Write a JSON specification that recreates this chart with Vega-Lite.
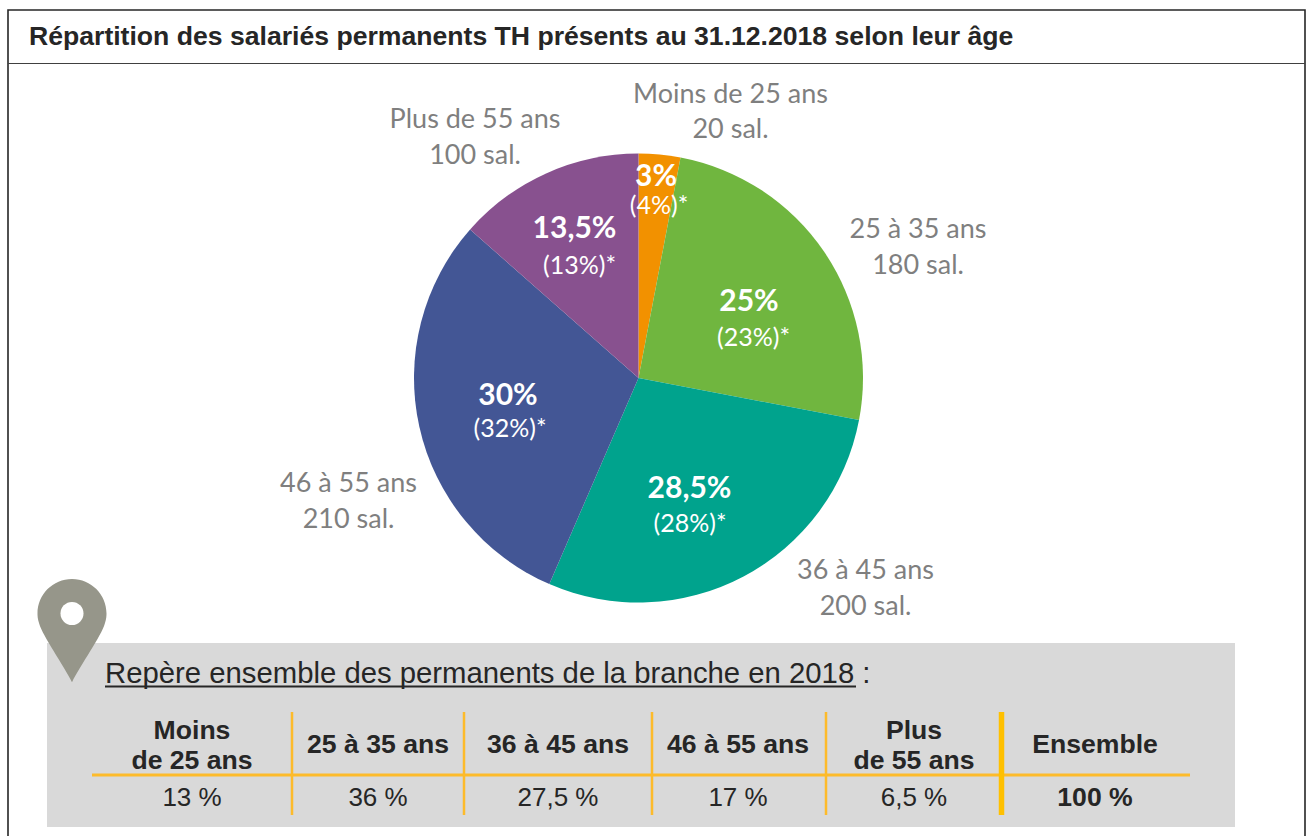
{
"$schema":"https://vega.github.io/schema/vega-lite/v6.json",
"width":1306,"height":836,"autosize":{"type":"none"},"padding":0,"background":"white",
"title":{"text":"Répartition des salariés permanents TH présents au 31.12.2018 selon leur âge","anchor":"start","frame":"group","offset":-51,"dx":29,"font":"Liberation Sans","fontSize":26.6,"fontWeight":"bold","color":"#262626"},
"config":{"view":{"stroke":null},"axis":{"domain":false,"grid":false,"ticks":false,"labels":false,"title":null}},
"datasets":{
"tranches":[
{"rang":1,"age":"Moins de 25 ans","part":3,"salaries":"20 sal.","pct":"3%","repere":"(4%)*"},
{"rang":2,"age":"25 à 35 ans","part":25,"salaries":"180 sal.","pct":"25%","repere":"(23%)*"},
{"rang":3,"age":"36 à 45 ans","part":28.5,"salaries":"200 sal.","pct":"28,5%","repere":"(28%)*"},
{"rang":4,"age":"46 à 55 ans","part":30,"salaries":"210 sal.","pct":"30%","repere":"(32%)*"},
{"rang":5,"age":"Plus de 55 ans","part":13.5,"salaries":"100 sal.","pct":"13,5%","repere":"(13%)*"}],
"tableau":[
{"colonne":1,"ligne":1,"texte":"Moins","gras":true},{"colonne":1,"ligne":2,"texte":"de 25 ans","gras":true},
{"colonne":2,"ligne":3,"texte":"25 à 35 ans","gras":true},{"colonne":3,"ligne":3,"texte":"36 à 45 ans","gras":true},
{"colonne":4,"ligne":3,"texte":"46 à 55 ans","gras":true},
{"colonne":5,"ligne":1,"texte":"Plus","gras":true},{"colonne":5,"ligne":2,"texte":"de 55 ans","gras":true},
{"colonne":6,"ligne":3,"texte":"Ensemble","gras":true},
{"colonne":1,"ligne":4,"texte":"13 %","gras":false},{"colonne":2,"ligne":4,"texte":"36 %","gras":false},
{"colonne":3,"ligne":4,"texte":"27,5 %","gras":false},{"colonne":4,"ligne":4,"texte":"17 %","gras":false},
{"colonne":5,"ligne":4,"texte":"6,5 %","gras":false},{"colonne":6,"ligne":4,"texte":"100 %","gras":true}],
"separateurs":[{"apres":1},{"apres":2},{"apres":3},{"apres":4},{"apres":5}],
"element":[{"element":"décor"}]
},
"resolve":{"scale":{"x":"independent","y":"independent","color":"independent"}},
"layer":[
{"data":{"name":"element"},"mark":{"type":"rect","fill":null,"stroke":"#262626","strokeWidth":1.6},
 "encoding":{"x":{"datum":0,"type":"quantitative","scale":{"domain":[0,1],"range":[8,1305]},"axis":null},"x2":{"datum":1},
  "y":{"datum":0,"type":"quantitative","scale":{"domain":[0,1],"range":[10,870]},"axis":null},"y2":{"datum":1}}},
{"data":{"name":"element"},"mark":{"type":"rule","stroke":"#404040","strokeWidth":1.2},
 "encoding":{"x":{"datum":0,"type":"quantitative","scale":{"domain":[0,1],"range":[8,1305]},"axis":null},"x2":{"datum":1},
  "y":{"datum":0,"type":"quantitative","scale":{"domain":[0,1],"range":[63.5,64]},"axis":null}}},
{"data":{"name":"tranches"},"mark":{"type":"arc","x":638.5,"y":378,"outerRadius":224.5,"innerRadius":0},
 "encoding":{"theta":{"field":"part","type":"quantitative","stack":true,"scale":{"domain":[0,100]}},
  "order":{"field":"rang","type":"quantitative"},
  "color":{"field":"age","type":"nominal","legend":null,"scale":{"domain":["Moins de 25 ans","25 à 35 ans","36 à 45 ans","46 à 55 ans","Plus de 55 ans"],"range":["#F29100","#70B63F","#00A38D","#435695","#88518F"]}}}},
{"data":{"name":"tranches"},"mark":{"type":"text","font":"Lato","fontSize":30,"fontWeight":"bold","fill":"white","baseline":"middle"},
 "encoding":{"text":{"field":"pct"},
  "x":{"field":"rang","type":"quantitative","axis":null,"scale":{"zero":false,"nice":false,"domain":[1,2,3,4,5],"range":[656,749,689.5,508,574.5]}},
  "y":{"field":"rang","type":"quantitative","axis":null,"scale":{"zero":false,"nice":false,"domain":[1,2,3,4,5],"range":[177,302,489,396,229]}}}},
{"data":{"name":"tranches"},"mark":{"type":"text","font":"Lato","fontSize":25,"fill":"white","baseline":"middle"},
 "encoding":{"text":{"field":"repere"},
  "x":{"field":"rang","type":"quantitative","axis":null,"scale":{"zero":false,"nice":false,"domain":[1,2,3,4,5],"range":[659,753.5,690,510,579.5]}},
  "y":{"field":"rang","type":"quantitative","axis":null,"scale":{"zero":false,"nice":false,"domain":[1,2,3,4,5],"range":[206,338,524,429,266]}}}},
{"data":{"name":"tranches"},"mark":{"type":"text","font":"Lato","fontSize":27,"fill":"#7F7F7F","baseline":"middle"},
 "encoding":{"text":{"field":"age"},
  "x":{"field":"rang","type":"quantitative","axis":null,"scale":{"zero":false,"nice":false,"domain":[1,2,3,4,5],"range":[730.5,918,865.5,348.5,475]}},
  "y":{"field":"rang","type":"quantitative","axis":null,"scale":{"zero":false,"nice":false,"domain":[1,2,3,4,5],"range":[95,230,571,484,120]}}}},
{"data":{"name":"tranches"},"mark":{"type":"text","font":"Lato","fontSize":27,"fill":"#7F7F7F","baseline":"middle"},
 "encoding":{"text":{"field":"salaries"},
  "x":{"field":"rang","type":"quantitative","axis":null,"scale":{"zero":false,"nice":false,"domain":[1,2,3,4,5],"range":[730.5,918,865.5,348.5,475]}},
  "y":{"field":"rang","type":"quantitative","axis":null,"scale":{"zero":false,"nice":false,"domain":[1,2,3,4,5],"range":[130,266,607,520,156]}}}},
{"data":{"name":"element"},"mark":{"type":"rect","fill":"#D9D9D9"},
 "encoding":{"x":{"datum":0,"type":"quantitative","scale":{"domain":[0,1],"range":[47,1235]},"axis":null},"x2":{"datum":1},
  "y":{"datum":0,"type":"quantitative","scale":{"domain":[0,1],"range":[643,827]},"axis":null},"y2":{"datum":1}}},
{"data":{"name":"element"},"mark":{"type":"point","filled":true,"opacity":1,"fill":"#96968A","stroke":null,"x":72,"y":613.5,"size":4761,"shape":"M0,1.99 C-0.25,1.5 -0.85,0.65 -0.95,0.3 C-1,0.15 -1,0.05 -1,0 A1,1 0 1 1 1,0 C1,0.05 1,0.15 0.95,0.3 C0.85,0.65 0.25,1.5 0,1.99 Z"},"encoding":{}},
{"data":{"name":"element"},"mark":{"type":"point","filled":true,"opacity":1,"fill":"white","stroke":null,"x":72,"y":613.5,"size":530,"shape":"circle"},"encoding":{}},
{"data":{"values":[{"texte":"Repère ensemble des permanents de la branche en 2018 :"}]},"mark":{"type":"text","font":"Liberation Sans","fontSize":29.3,"fill":"#262626","align":"left","baseline":"alphabetic","x":105,"y":683},"encoding":{"text":{"field":"texte"}}},
{"data":{"name":"element"},"mark":{"type":"rule","stroke":"#262626","strokeWidth":2},
 "encoding":{"x":{"datum":0,"type":"quantitative","scale":{"domain":[0,1],"range":[105,856]},"axis":null},"x2":{"datum":1},
  "y":{"datum":0,"type":"quantitative","scale":{"domain":[0,1],"range":[686.5,687]},"axis":null}}},
{"data":{"name":"element"},"mark":{"type":"rule","stroke":"#FDBB2B","strokeWidth":3},
 "encoding":{"x":{"datum":0,"type":"quantitative","scale":{"domain":[0,1],"range":[92,1190]},"axis":null},"x2":{"datum":1},
  "y":{"datum":0,"type":"quantitative","scale":{"domain":[0,1],"range":[775,775.5]},"axis":null}}},
{"data":{"name":"separateurs"},"transform":[{"filter":"datum.apres<5"}],"mark":{"type":"rule","stroke":"#FDBB2B","strokeWidth":2.5},
 "encoding":{"x":{"field":"apres","type":"quantitative","axis":null,"scale":{"zero":false,"nice":false,"domain":[1,2,3,4,5],"range":[292,464,652,826,1001.5]}},
  "y":{"datum":0,"type":"quantitative","scale":{"domain":[0,1],"range":[712,815]},"axis":null},"y2":{"datum":1}}},
{"data":{"name":"separateurs"},"transform":[{"filter":"datum.apres==5"}],"mark":{"type":"rule","stroke":"#FFC000","strokeWidth":5.5},
 "encoding":{"x":{"field":"apres","type":"quantitative","axis":null,"scale":{"zero":false,"nice":false,"domain":[1,2,3,4,5],"range":[292,464,652,826,1001.5]}},
  "y":{"datum":0,"type":"quantitative","scale":{"domain":[0,1],"range":[712,815]},"axis":null},"y2":{"datum":1}}},
{"data":{"name":"tableau"},"transform":[{"filter":"datum.gras"}],"mark":{"type":"text","font":"Liberation Sans","fontSize":26.6,"fontWeight":"bold","fill":"#262626","baseline":"middle"},
 "encoding":{"text":{"field":"texte"},
  "x":{"field":"colonne","type":"quantitative","axis":null,"scale":{"zero":false,"nice":false,"domain":[1,2,3,4,5,6],"range":[192,378,558,738,914,1095]}},
  "y":{"field":"ligne","type":"quantitative","axis":null,"scale":{"zero":false,"nice":false,"domain":[1,2,3,4],"range":[731,761,745,798]}}}},
{"data":{"name":"tableau"},"transform":[{"filter":"!datum.gras"}],"mark":{"type":"text","font":"Liberation Sans","fontSize":26,"fill":"#262626","baseline":"middle"},
 "encoding":{"text":{"field":"texte"},
  "x":{"field":"colonne","type":"quantitative","axis":null,"scale":{"zero":false,"nice":false,"domain":[1,2,3,4,5,6],"range":[192,378,558,738,914,1095]}},
  "y":{"field":"ligne","type":"quantitative","axis":null,"scale":{"zero":false,"nice":false,"domain":[1,2,3,4],"range":[731,761,745,798]}}}}
]}
